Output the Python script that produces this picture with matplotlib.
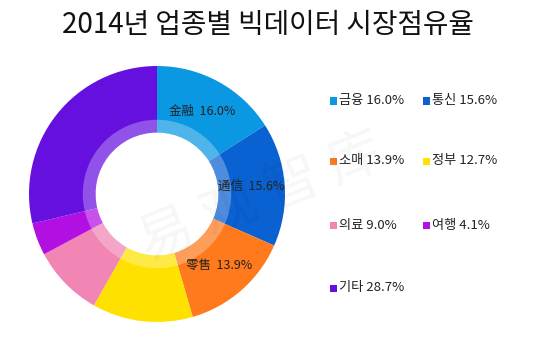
import matplotlib
matplotlib.use("Agg")

import matplotlib.pyplot as plt
import numpy as np
from matplotlib.patches import Rectangle, Wedge

# data
sectors_ko = ["금융", "통신", "소매", "정부", "의료", "여행", "기타"]
sectors_zh = ["金融", "通信", "零售", "政府", "医疗", "旅游", "其他"]
shares = [16.0, 15.6, 13.9, 12.7, 9.0, 4.1, 28.7]
colors = ["#0b98e2", "#0a61d1", "#ff7a1c", "#ffe100", "#f185b3", "#b20fe3", "#6610e0"]
inner_labeled = 3  # only the first three slices carry an inside label

W, H = 535, 342
fig = plt.figure(figsize=(W / 100, H / 100), dpi=100)
plt.rcParams["font.family"] = ["Noto Sans CJK KR", "DejaVu Sans"]

# pie axes: centre (157, 194) px, radius 128 px
cx, cy, R = 157, 194, 128
pad = 132
ax = fig.add_axes([(cx - pad) / W, (H - cy - pad) / H, 2 * pad / W, 2 * pad / H])

wedges, _ = ax.pie(shares, colors=colors, startangle=90, counterclock=False,
                   radius=1.0, wedgeprops=dict(width=1 - 0.48, linewidth=0))

lim = pad / R
ax.set_xlim(-lim, lim)
ax.set_ylim(-lim, lim)
ax.set_aspect("equal")
ax.axis("off")

# translucent inner band
ax.add_patch(Wedge((0, 0), 0.58, 0, 360, width=0.1, facecolor="white",
                   alpha=0.28, linewidth=0))

# inside labels
total = sum(shares)
start = 90.0
for i, v in enumerate(shares):
    mid = start - v / total * 360 / 2
    start -= v / total * 360
    if i < inner_labeled:
        r = 0.74
        ax.text(r * np.cos(np.radians(mid)), r * np.sin(np.radians(mid)),
                f"{sectors_zh[i]}  {v:.1f}%", ha="center", va="center",
                fontsize=9, color="#222222",
                family=["Noto Sans CJK SC", "DejaVu Sans"])

# watermark
fig.text(0.49, 0.42, "易 观 智 库", fontsize=40, color="#000000", alpha=0.035,
         rotation=22, ha="center", va="center",
         family=["Noto Sans CJK SC", "DejaVu Sans"])

# title
fig.text(0.5, 1 - 25 / H, "2014년 업종별 빅데이터 시장점유율", ha="center",
         va="center", fontsize=20, color="#111111")

# legend
col_x = [330, 423]
row_y = [101, 161, 225, 288]
sq = 7
for i, (name, v) in enumerate(zip(sectors_ko, shares)):
    x = col_x[i % 2]
    y = row_y[i // 2]
    fig.add_artist(Rectangle(((x) / W, (H - y - sq / 2) / H), sq / W, sq / H,
                             transform=fig.transFigure, facecolor=colors[i],
                             edgecolor="none"))
    fig.text((x + sq + 2) / W, (H - y) / H, f"{name} {v:.1f}%", ha="left",
             va="center", fontsize=9.5, color="#222222")

fig.savefig("out.png", dpi=100)
